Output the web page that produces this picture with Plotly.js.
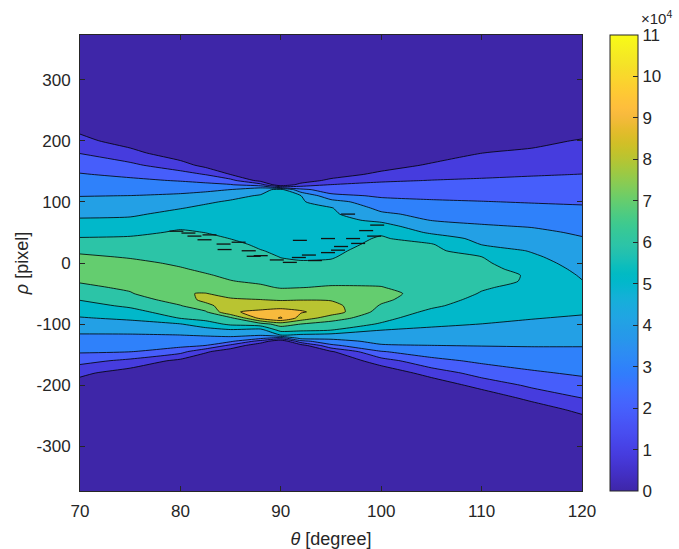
<!DOCTYPE html>
<html><head><meta charset="utf-8">
<script src="https://cdn.plot.ly/plotly-3.0.1.min.js"></script>
<style>html,body{margin:0;padding:0;background:#fff}#chart{width:679px;height:549px}</style>
</head><body><div id="chart"></div>
<script>
// theta columns (degree) and rho rows (pixel, top to bottom)
const theta = [70,75,80,82.5,85,88,90,92,95,100,105,110,115,120];
const rho = [373,300,260,240,220,200,180,160,145,135,128,124,120,110,100,90,80,70,60,50,40,30,20,10,0,-10,-20,-30,-40,-50,-60,-70,-80,-90,-100,-110,-118,-123,-128,-135,-145,-160,-180,-200,-220,-240,-260,-300,-373];
// accumulator votes (x 10^4), one array per theta column, rho from top to bottom
const votes70  = [0,0,0,0.3,0.75,1.3,1.97,2.6,3.06,3.32, 3.51,3.61,3.71,3.97,4.25,4.53,4.81,5.1,5.41,5.73, 6.06,6.46,6.86,7.13,7.33,7.46,7.27,7.08,6.78,6.41, 6.04,5.67,5.31,4.94,4.58,4.21,3.93,3.78,3.62,3.41, 3.11,2.34,1.22,0.57,0.2,0,0,0,0];
const votes75  = [0,0,0,0,0.08,0.5,1.34,2.2,2.8,3.17, 3.4,3.53,3.67,4.01,4.29,4.57,4.86,5.16,5.48,5.81, 6.11,6.39,6.67,6.94,7.17,7.39,7.6,7.39,7.17,6.92, 6.54,6.15,5.68,5.16,4.7,4.26,3.93,3.77,3.6,3.37, 3.03,1.75,0.5,0.23,0,0,0,0,0];
const votes80  = [0,0,0,0,0,0,0.3,1.43,2.37,2.94, 3.3,3.5,3.7,4.16,4.56,4.96,5.27,5.58,5.88,6.1, 6.25,6.41,6.57,6.73,6.89,7.06,7.27,7.48,7.69,7.96, 7.43,6.95,6.5,6.05,4.95,4.42,3.99,3.78,3.57,3.26, 2.33,0.72,0.1,0,0,0,0,0,0];
const votes82  = [0,0,0,0,0,0,0,0.68,1.96,2.72, 3.23,3.51,3.79,4.37,4.89,5.17,5.38,5.58,5.79,5.99, 6.15,6.29,6.44,6.59,6.74,6.88,7.06,7.34,7.63,8.03, 8.3,7.67,6.89,6.37,5.54,4.59,4.09,3.77,3.45,2.99, 1.18,0,0,0,0,0,0,0,0];
const votes85  = [0,0,0,0,0,0,0,0.1,0.97,2.3, 3.06,3.53,4.01,4.77,5.1,5.25,5.4,5.55,5.7,5.85, 5.99,6.14,6.29,6.43,6.58,6.72,6.87,7.03,7.38,7.72, 8.1,8.63,8.9,6.81,6.19,4.85,4.23,3.76,3.17,1.76, 0.3,0,0,0,0,0,0,0,0];
const votes88  = [0,0,0,0,0,0,0,0,0,0.61, 2.38,3.75,4.64,5.08,5.19,5.29,5.39,5.49,5.6,5.7, 5.8,5.91,6.02,6.19,6.36,6.53,6.71,6.88,7.13,7.57, 8.01,8.59,9.2,9.33,6.6,4.6,4.07,3.2,1.6,0.2, 0,0,0,0,0,0,0,0,0];
const votes90  = [0,0,0,0,0,0,0,0,0,0, 0.1,2.5,5.3,5.36,5.42,5.48,5.55,5.61,5.67,5.73, 5.79,5.85,5.91,5.98,6.12,6.33,6.53,6.73,6.94,7.37, 7.9,8.62,9.42,10.1,7.4,6.33,4.98,2.5,0.1,0, 0,0,0,0,0,0,0,0,0];
const votes92  = [0,0,0,0,0,0,0,0,0,0.3, 1.42,2.34,3.25,5.02,5.11,5.2,5.29,5.38,5.47,5.56, 5.65,5.75,5.84,5.93,6.05,6.28,6.51,6.74,6.98,7.45, 7.95,8.64,9.1,8.6,6.98,6.19,4.8,4.3,2.68,0.5, 0,0,0,0,0,0,0,0,0];
const votes95  = [0,0,0,0,0,0,0,0,0.3,1.32, 2.03,2.27,2.52,3.25,4.44,5.06,5.17,5.28,5.39,5.5, 5.61,5.72,5.83,5.94,6.1,6.34,6.58,6.81,7.08,7.5, 7.92,8.35,8.56,7.5,6.56,5.99,4.64,4.18,3.66,2.77, 0.88,0,0,0,0,0,0,0,0];
const votes100 = [0,0,0,0,0,0,0,0.3,1.37,1.89, 2.19,2.35,2.5,2.88,3.29,3.71,4.19,4.81,5.37,5.89, 6.09,6.2,6.34,6.45,6.55,6.67,6.78,6.9,7.02,7.3, 7.2,6.91,6.59,6.28,5.91,4.99,4.67,4.46,4.25,3.9, 2.94,1.57,0.15,0,0,0,0,0,0];
const votes105 = [0,0,0,0,0,0,0.1,1.2,1.69,2.02, 2.24,2.37,2.5,2.81,3.11,3.4,3.69,3.97,4.39,4.83, 5.6,6.08,6.21,6.34,6.47,6.6,6.73,6.8,6.75,6.6, 6.4,6.15,5.81,5.48,5.16,4.83,4.57,4.4,4.23,3.99, 3.5,2.71,1.47,0.2,0,0,0,0,0];
const votes110 = [0,0,0,0,0,0.1,0.99,1.48,1.84,2.09, 2.28,2.39,2.49,2.76,3.03,3.29,3.55,3.82,4.09,4.39, 4.7,4.99,5.5,6.01,6.16,6.32,6.34,6.21,6.09,5.94, 5.75,5.57,5.38,5.19,4.99,4.72,4.5,4.36,4.22,4.03, 3.7,3.19,2.37,1.42,0.2,0,0,0,0];
const votes115 = [0,0,0,0,0,0.6,1.26,1.65,1.94,2.15, 2.31,2.41,2.5,2.73,2.95,3.2,3.45,3.7,3.95,4.2, 4.44,4.68,4.93,5.16,5.38,5.61,5.9,5.92,5.74,5.6, 5.46,5.32,5.18,5.04,4.84,4.61,4.43,4.32,4.2,4.05, 3.8,3.42,2.87,2.17,1.39,0.25,0,0,0];
const votes120 = [0,0,0,0,0.3,1.12,1.44,1.76,2.01,2.2, 2.34,2.42,2.5,2.7,2.9,3.1,3.29,3.49,3.69,3.88, 4.06,4.19,4.33,4.47,4.61,4.75,4.89,5.04,5.27,5.49, 5.5,5.3,5.1,4.9,4.71,4.52,4.37,4.27,4.17,4.04, 3.84,3.54,3.14,2.62,2.03,1.37,0.4,0,0];
// small noisy contour fragments along the upper edge of the 6e4 band
const fragTheta = [79.6,80.8,81.4,82.9,84.3,84.4,85.8,86.8,87.3,88.0,89.6,90.9,91.8,92.8,93.4,94.7,94.7,95.7,96.0,97.2,97.7,98.5,99.3,99.6,96.7,82.4,91.9];
const fragRho   = [52,49,44,46,31,22,34,20,11,12,5,1,9,13,4,17,40,21,27,40,32,53,44,62,80,38,37];
const xTicks = [70,80,90,100,110,120];
const yTicks = [-300,-200,-100,0,100,200,300];
const yTickText = ['-300','-200','-100','0','100','200','300'];
const cbTicks = [0,1,2,3,4,5,6,7,8,9,10,11];

// parula colormap (64 entries)
const parula = [
[0.2422,0.1504,0.6603],[0.2504,0.1650,0.7076],[0.2578,0.1818,0.7511],[0.2647,0.1978,0.7952],
[0.2706,0.2147,0.8364],[0.2751,0.2342,0.8710],[0.2783,0.2559,0.8991],[0.2803,0.2782,0.9221],
[0.2813,0.3006,0.9414],[0.2810,0.3228,0.9579],[0.2795,0.3447,0.9717],[0.2760,0.3667,0.9829],
[0.2699,0.3892,0.9906],[0.2602,0.4123,0.9952],[0.2440,0.4358,0.9988],[0.2206,0.4603,0.9973],
[0.1963,0.4847,0.9892],[0.1834,0.5074,0.9798],[0.1786,0.5289,0.9682],[0.1764,0.5499,0.9520],
[0.1687,0.5703,0.9359],[0.1540,0.5902,0.9218],[0.1460,0.6091,0.9079],[0.1380,0.6276,0.8973],
[0.1248,0.6459,0.8883],[0.1113,0.6635,0.8763],[0.0952,0.6798,0.8598],[0.0689,0.6948,0.8394],
[0.0297,0.7082,0.8163],[0.0036,0.7203,0.7917],[0.0067,0.7312,0.7660],[0.0433,0.7411,0.7394],
[0.0964,0.7500,0.7120],[0.1408,0.7584,0.6842],[0.1717,0.7670,0.6554],[0.1938,0.7758,0.6251],
[0.2161,0.7843,0.5923],[0.2470,0.7918,0.5567],[0.2906,0.7973,0.5188],[0.3406,0.8008,0.4789],
[0.3909,0.8029,0.4354],[0.4456,0.8024,0.3909],[0.5044,0.7993,0.3480],[0.5616,0.7942,0.3045],
[0.6174,0.7876,0.2612],[0.6720,0.7793,0.2227],[0.7242,0.7698,0.1910],[0.7738,0.7598,0.1646],
[0.8203,0.7498,0.1535],[0.8634,0.7406,0.1596],[0.9035,0.7330,0.1774],[0.9393,0.7288,0.2100],
[0.9728,0.7298,0.2394],[0.9956,0.7434,0.2371],[0.9970,0.7659,0.2199],[0.9952,0.7893,0.2028],
[0.9892,0.8136,0.1885],[0.9786,0.8386,0.1766],[0.9676,0.8639,0.1643],[0.9610,0.8890,0.1537],
[0.9597,0.9135,0.1423],[0.9628,0.9373,0.1265],[0.9691,0.9606,0.1064],[0.9769,0.9839,0.0805]];
const rgb = c => 'rgb(' + c.map(v => Math.round(v*255)).join(',') + ')';
const parulaScale = parula.map((c,i) => [i/(parula.length-1), rgb(c)]);
// band k (k..k+1) uses the colour of level k on a 0..11 colour axis
const bandScale = [];
for (let k = 0; k <= 10; k++) bandScale.push([k/10, rgb(parula[Math.floor(k*64/11)])]);

const ink = '#262626';
const data = [
  {type:'contour', x: theta, y: rho,
   z: [votes70,votes75,votes80,votes82,votes85,votes88,votes90,votes92,votes95,votes100,votes105,votes110,votes115,votes120],
   transpose: true, autocontour: false,
   contours: {start:1, end:10, size:1, coloring:'fill', showlines:true},
   line: {color:'#000', width:0.8, smoothing:0.6},
   colorscale: bandScale, showscale:false, hoverinfo:'skip'},
  {type:'scatter', x: fragTheta, y: fragRho, mode:'markers', hoverinfo:'skip', showlegend:false,
   marker:{symbol:'line-ew', size:10, color:'#000', line:{width:1.3, color:'#111'}}},
  {type:'scatter', x:[1000], y:[0], mode:'markers', hoverinfo:'skip', showlegend:false,
   marker:{color:[0], cmin:0, cmax:11, colorscale: parulaScale, showscale:true,
     colorbar:{x:1.0554, xanchor:'left', y:0.5, yanchor:'middle', len:1, lenmode:'fraction',
       thickness:28, thicknessmode:'pixels', xpad:0, ypad:0,
       outlinewidth:1, outlinecolor:ink, tickvals:cbTicks, ticks:'inside', ticklen:5,
       tickcolor:ink, tickfont:{size:17, color:ink}}}}
];
const axisCommon = {ticks:'inside', ticklen:5, tickcolor:ink, tickwidth:1, showline:true,
  linecolor:ink, linewidth:1, mirror:'ticks', showgrid:false, zeroline:false,
  tickfont:{size:17, color:ink}};
const layout = {
  width:679, height:549, margin:{l:80, r:94, t:35, b:58, pad:0},
  paper_bgcolor:'#fff', plot_bgcolor:'#fff',
  font:{family:'"Liberation Sans", Arial, Helvetica, sans-serif', color:ink},
  xaxis: Object.assign({}, axisCommon, {range:[70,120], tickvals:xTicks, ticklabelstandoff:5,
    title:{text:'<i>θ</i> [degree]', font:{size:18, color:ink}, standoff:11}}),
  yaxis: Object.assign({}, axisCommon, {range:[-373,373], tickvals:yTicks, ticktext:yTickText,
    ticklabelstandoff:5, title:{text:'<i>ρ</i> [pixel]', font:{size:18, color:ink}, standoff:3}}),
  annotations:[{xref:'paper', yref:'paper', x:1.113, y:1, xanchor:'left', yanchor:'bottom',
    yshift:6, showarrow:false, text:'×10<sup>4</sup>', font:{size:15, color:ink}}],
  showlegend:false
};
Plotly.newPlot('chart', data, layout, {displayModeBar:false, staticPlot:true});
</script></body></html>
